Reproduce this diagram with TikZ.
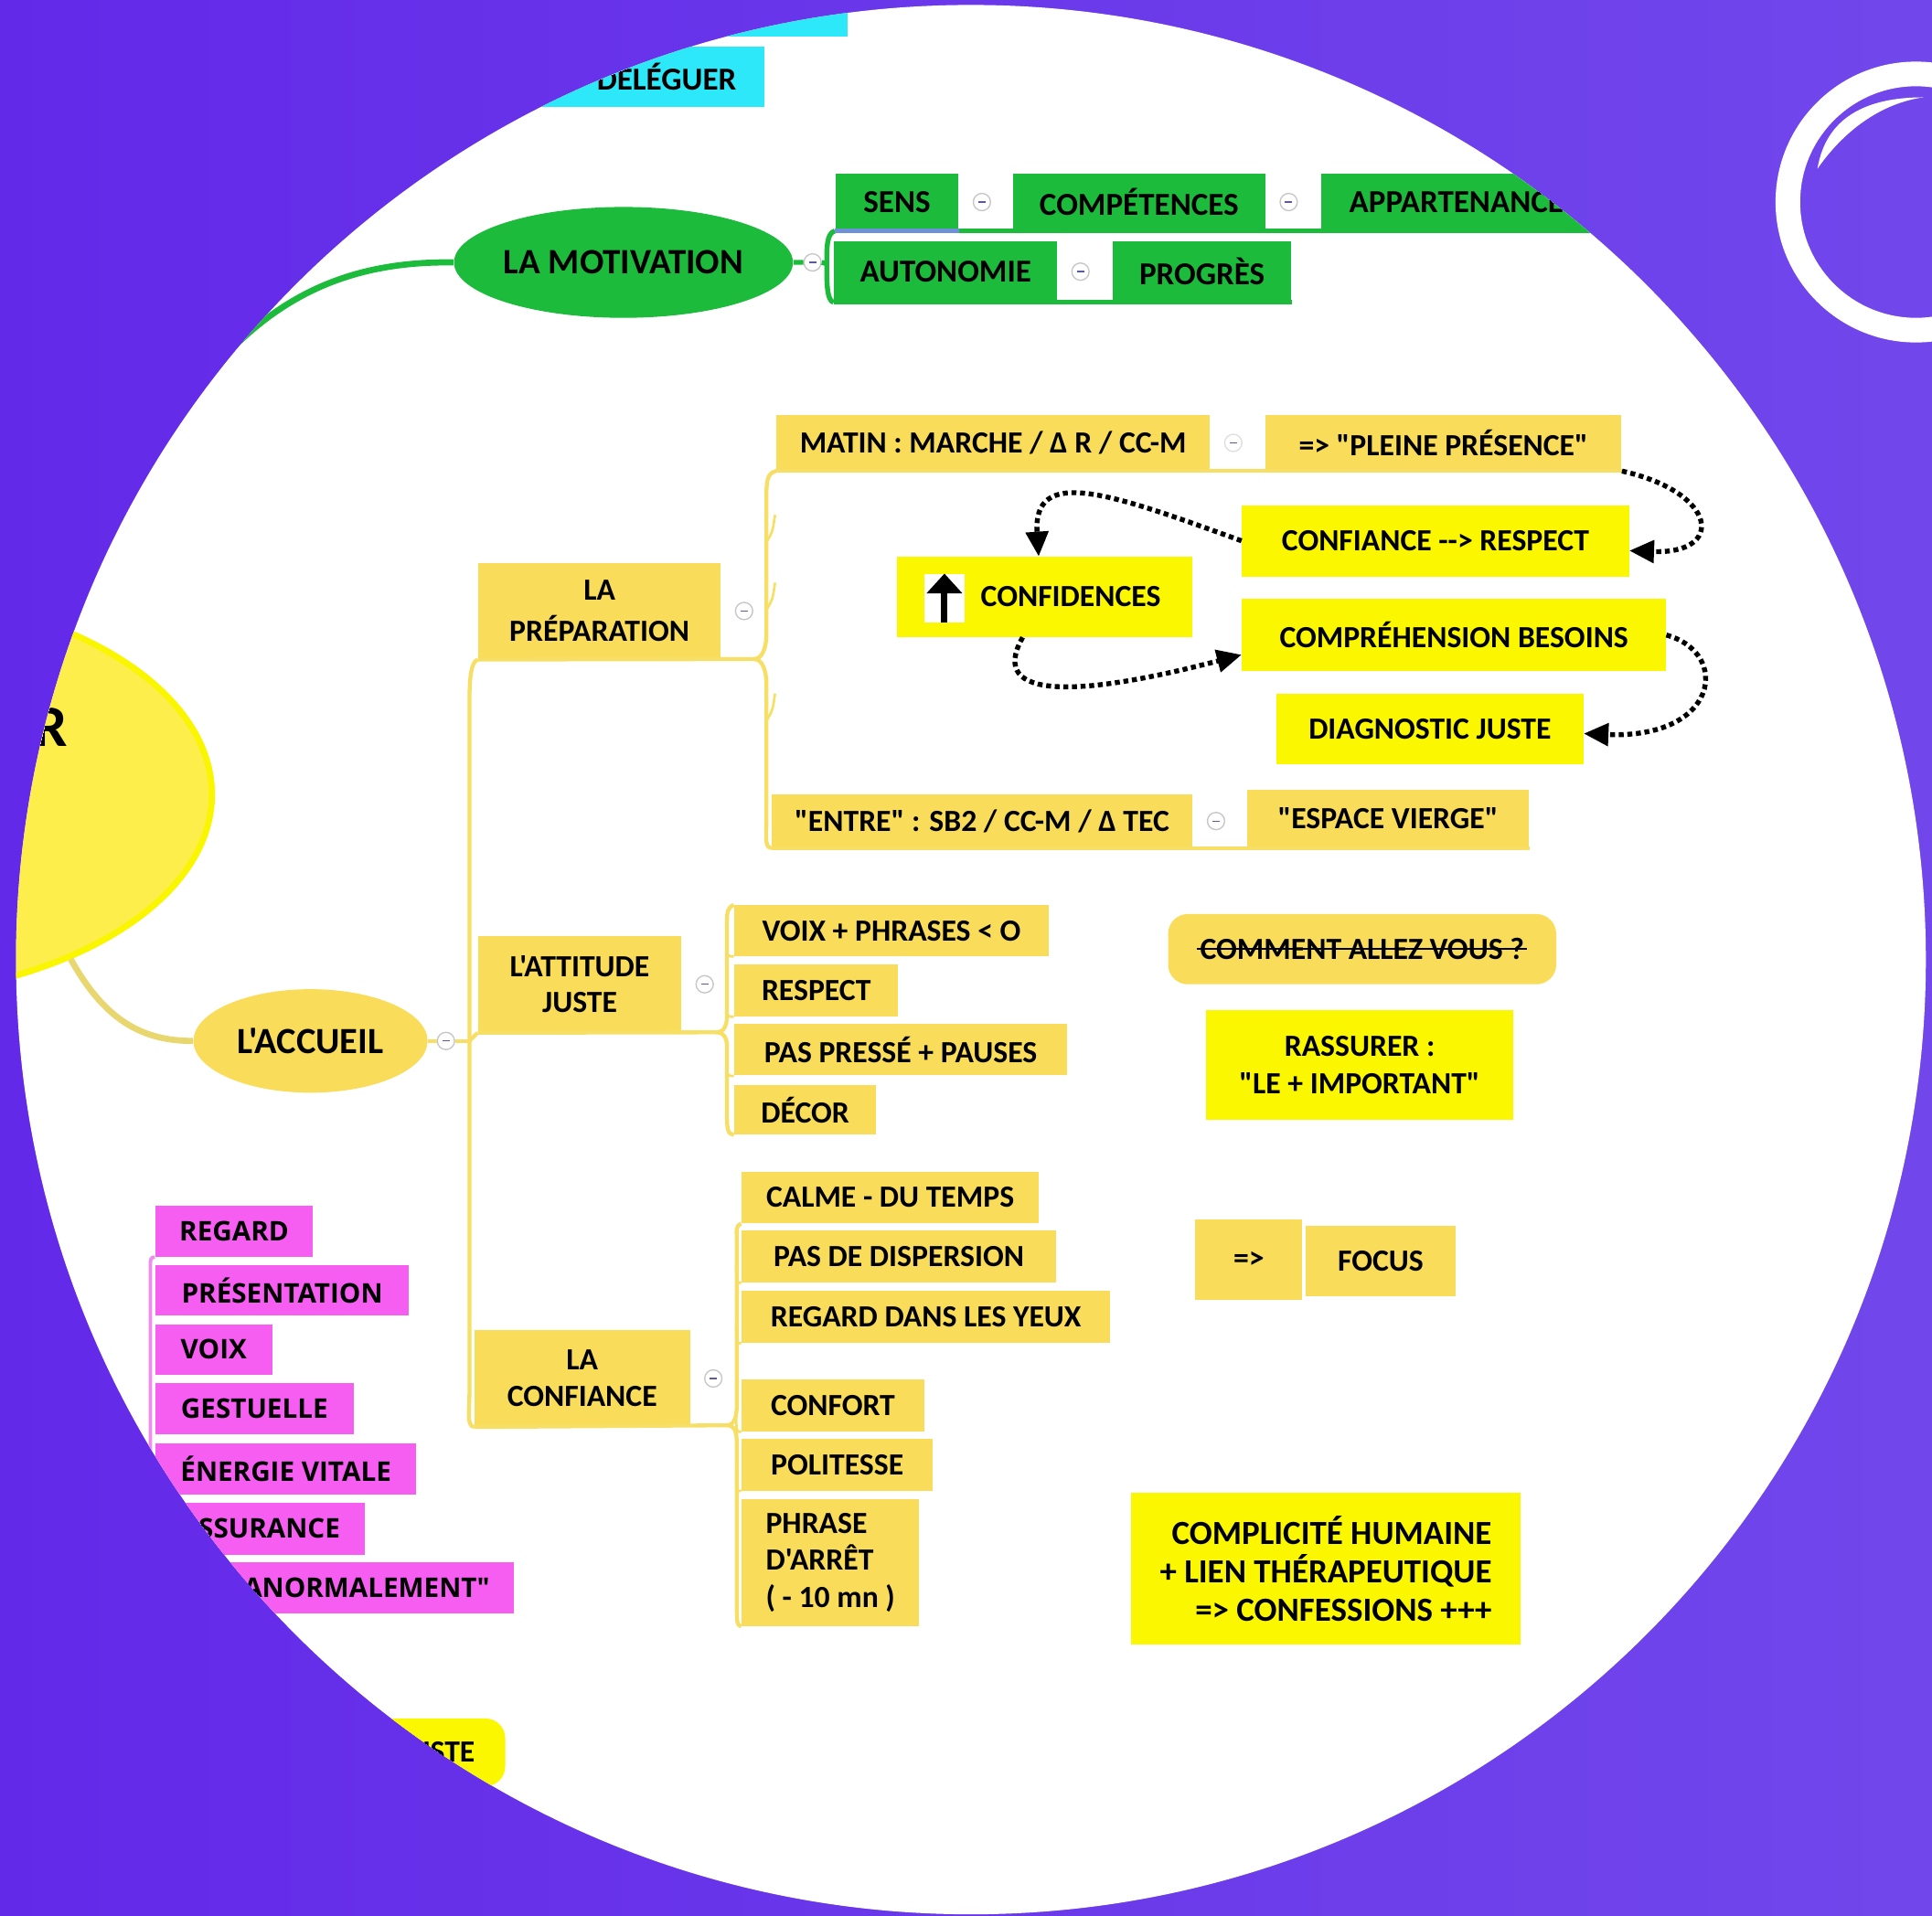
\documentclass[tikz,border=0pt]{standalone}
\usepackage{fontspec}
\setmainfont{Carlito}[Ligatures=TeXOff]
\newfontfamily\pinkfont{Open Sans}[Ligatures=TeXOff]
\usetikzlibrary{positioning}
\usetikzlibrary{shapes.geometric}
\usetikzlibrary{arrows.meta}
\definecolor{bgleft}{RGB}{99,41,233}
\definecolor{bgright}{RGB}{113,71,235}
\definecolor{mapyellow}{RGB}{249,221,90}
\definecolor{brightyellow}{RGB}{250,247,0}
\definecolor{mapgreen}{RGB}{29,187,59}
\definecolor{mappink}{RGB}{246,94,242}
\definecolor{mapcyan}{RGB}{44,232,248}
\definecolor{ellyellow}{RGB}{253,238,75}
\definecolor{ellborder}{RGB}{250,246,0}
\definecolor{linkyellow}{RGB}{247,222,100}
\definecolor{accueillink}{RGB}{232,214,110}
\definecolor{linkpink}{RGB}{240,140,240}
\definecolor{selblue}{RGB}{110,145,215}
\tikzset{
    boxat/.style n args={4}{minimum width={(#3-#1)*0.5pt}, minimum height={(#4-#2)*0.5pt},
        at={({(#1+#3)/2},{(#2+#4)/2})}},
    box/.style = {rectangle, inner sep=0pt, text=black, align=center,
        font=\fontsize{12.5}{15}\selectfont\bfseries},
    ybox/.style = {box, fill=mapyellow},
    bbox/.style = {box, fill=brightyellow},
    gbox/.style = {box, fill=mapgreen, font=\fontsize{13}{15}\selectfont\bfseries},
    cbox/.style = {box, fill=mapcyan, font=\fontsize{13}{15}\selectfont\bfseries},
    pbox/.style = {box, fill=mappink, font=\pinkfont\fontsize{11}{13}\selectfont\bfseries},
    fold/.style = {circle, draw=gray!45, fill=white, line width=0.5pt,
        minimum size=7pt, inner sep=0pt,
        path picture={\draw[blue!30!gray, line width=0.5pt]
            ([xshift=-1.5pt]path picture bounding box.center) --
            ([xshift=1.5pt]path picture bounding box.center);}}}

\begin{document}
\begin{tikzpicture}[x=0.5pt, y=-0.5pt,
    ylink/.style = {draw=linkyellow, line width=1.6pt},
    glink/.style = {draw=mapgreen, line width=2pt},
    plink/.style = {draw=linkpink, line width=1.4pt},
    dotlink/.style = {line width=2pt, dash pattern=on 2pt off 1.5pt,
        -{Triangle[length=10pt,width=9pt]}}
    ]
    \useasboundingbox (0,0) rectangle (1568,1555);
    \clip (0,0) rectangle (1568,1555);
    \shade[left color=bgleft, right color=bgright] (0,0) rectangle (1568,1555);

    \begin{scope}
    \clip (788,779) circle[radius=775];
    \fill[white] (0,0) rectangle (1568,1555);

    % centre
    \node[ellipse, fill=ellyellow, draw=ellborder, line width=2.5pt,
        minimum width=292pt, minimum height=165pt, inner sep=0pt] (centre) at (-120,645) {};
    \node[anchor=east, font=\fontsize{24}{26}\selectfont\bfseries] (centretxt) at (62,590) {R};

    % cyan branch
    \node[cbox, boxat={440}{-20}{688}{30}] (cyantop) {};
    \node[cbox, boxat={440}{38}{620}{87}] (deleguer) {\hspace*{11pt}DÉLÉGUER};

    % la motivation
    \node[ellipse, fill=mapgreen, minimum width=132pt, minimum height=45pt, inner sep=0pt,
        font=\fontsize{14.5}{16}\selectfont\bfseries] (motiv) at (506,213) {LA MOTIVATION};
    \coordinate (gstart) at (150,330);
    \draw[glink, line width=2.5pt] (gstart) .. controls (215,235) and (290,212) .. (motiv.west);
    \node[fold, right=4pt of motiv] (fmotiv) {};
    \node[gbox, boxat={678}{141}{778}{187}] (sens) {SENS};
    \node[fold, right=5.5pt of sens] (fsens) {};
    \node[gbox, boxat={822}{141}{1027}{187}] (comp) {COMPÉTENCES};
    \node[fold, right=5.5pt of comp] (fcomp) {};
    \node[gbox, boxat={1072}{141}{1292}{187}] (appart) {APPARTENANCE};
    \node[gbox, boxat={677}{196}{858}{245}] (autonomie) {AUTONOMIE};
    \node[fold, right=5.5pt of autonomie] (fauto) {};
    \node[gbox, boxat={903}{196}{1048}{245}] (progres) {PROGRÈS};
    \coordinate (gbr) at (671,214);
    \draw[glink] (motiv.east) -- (fmotiv.west) (fmotiv.east) -- (gbr);
    \draw[glink] (sens.south west) .. controls +(-7,2) and +(0,-12) .. (gbr)
        .. controls +(0,12) and +(-6,-1) .. (autonomie.south west);
    \draw[glink] (sens.south west) -- (appart.south east);
    \draw[glink] (autonomie.south west) -- (progres.south east);
    \draw[selblue, line width=1.6pt] (sens.south west) -- (sens.south east);

    % l'accueil
    \node[ellipse, fill=mapyellow, minimum width=95pt, minimum height=42pt, inner sep=0pt,
        font=\fontsize{15}{17}\selectfont\bfseries] (accueil) at (252,845) {L'ACCUEIL};
    \draw[draw=accueillink, line width=2.5pt] (centre.-37) .. controls (85,828) and (115,845) .. (accueil.west);
    \node[fold, right=3.5pt of accueil] (facc) {};
    \coordinate (trunk) at (381,845);

    \node[ybox, boxat={388}{457}{585}{535}, font=\fontsize{12.5}{16.5}\selectfont\bfseries] (prep) {LA\\PRÉPARATION};
    \node[fold, right=5.5pt of prep] (fprep) {};
    \node[ybox, boxat={388}{760}{553}{838}, font=\fontsize{12.5}{14.5}\selectfont\bfseries] (attitude) {L'ATTITUDE\\JUSTE};
    \node[fold, right=5.5pt of attitude] (fatt) {};
    \node[ybox, boxat={385}{1080}{560}{1158}] (confiance) {LA\\CONFIANCE};
    \node[fold, right=5.5pt of confiance] (fconf) {};

    \draw[ylink] (accueil.east) -- (facc.west) (facc.east) -- (trunk);
    \draw[ylink] (prep.south west) .. controls +(-6,2) and +(0,-15) .. (381,570) -- (trunk)
        -- (381,1130) .. controls +(0,15) and +(-6,-1) .. (confiance.south west);
    \draw[ylink] (trunk) -- (attitude.south west);
    \coordinate (pbr) at (612,535);
    \coordinate (abr) at (582,838);
    \coordinate (cbr) at (590,1157);
    \draw[ylink] (prep.south west) -- (pbr);
    \draw[ylink] (attitude.south west) -- (abr);
    \draw[ylink] (confiance.south west) -- (cbr);

    % la preparation
    \node[ybox, boxat={630}{337}{982}{382}] (matin) {MATIN : MARCHE / Δ R / CC-M};
    \node[fold, draw=gray!25, right=5.5pt of matin] (fmatin) {};
    \node[ybox, boxat={1027}{337}{1316}{382}] (pleine) {=> "PLEINE PRÉSENCE"};
    \draw[ylink] (matin.south west) -- (pleine.south east);
    \node[ybox, boxat={626}{645}{968}{688}] (entre) {"ENTRE" : SB2 / CC-M / Δ TEC};
    \node[fold, right=5.5pt of entre] (fentre) {};
    \node[ybox, boxat={1012}{641}{1241}{688}] (espace) {"ESPACE VIERGE"};
    \draw[ylink] (entre.south west) -- (espace.south east);
    \draw[ylink] (matin.south west) .. controls +(-7,2) and +(0,-15) .. (622,405) -- (622,515)
        .. controls +(0,12) and +(6,0) .. (pbr) .. controls +(6,0) and +(0,-12) .. (622,555)
        -- (622,665) .. controls +(0,15) and +(-5,-1) .. (entre.south west);
    \foreach \y in {440,495,585}
        \draw[ylink, line width=1pt] (622,\y) .. controls (627,\y-8) .. (629,\y-22);

    \node[bbox, boxat={728}{452}{968}{517}] (confid) {\hspace*{21pt}CONFIDENCES};
    \node[fill=white, inner sep=0pt, boxat={750}{466}{783}{505}] (upicon) {};
    \draw[line width=2.6pt, -{Triangle[length=8pt,width=14pt]}] (upicon.south) -- (upicon.north);
    \node[bbox, boxat={1008}{410}{1322}{468}] (cresp) {CONFIANCE --> RESPECT};
    \node[bbox, boxat={1008}{486}{1352}{545}] (cbes) {COMPRÉHENSION BESOINS};
    \node[bbox, boxat={1036}{563}{1285}{620}] (diag) {DIAGNOSTIC JUSTE};
    \draw[dotlink] (pleine.south east) .. controls (1395,400) and (1400,450) .. ([yshift=-4pt]cresp.east);
    \draw[dotlink] (cresp.west) .. controls (900,400) and (838,378) .. ([xshift=-2.5pt]confid.north);
    \draw[dotlink] ([xshift=-9pt]confid.south) .. controls (800,570) and (880,565) .. ([yshift=-8pt]cbes.west);
    \draw[dotlink] (cbes.east) .. controls (1405,530) and (1395,600) .. ([yshift=-2pt]diag.east);

    % l'attitude juste
    \node[ybox, boxat={596}{735}{851}{776}] (voix) {VOIX + PHRASES < O};
    \node[ybox, boxat={596}{783}{729}{825}] (respect) {RESPECT};
    \node[ybox, boxat={596}{831}{866}{873}] (presse) {PAS PRESSÉ + PAUSES};
    \node[ybox, boxat={596}{881}{711}{921}] (decor) {DÉCOR};
    \draw[ylink] (voix.north west) .. controls +(-5,2) and +(0,-8) .. (590,748) -- (590,825)
        .. controls +(0,8) and +(5,0) .. (abr) .. controls +(5,0) and +(0,-8) .. (590,850)
        -- (590,905) .. controls +(0,12) and +(-5,-1) .. (decor.south west);
    \foreach \n in {voix, respect, presse}
        \draw[ylink, line width=1pt] ([xshift=-3pt, yshift=7pt]\n.south west)
            .. controls ([xshift=-3pt]\n.south west) .. (\n.south west);
    \node[ybox, rounded corners=8pt, boxat={948}{742}{1263}{799}] (comment) {COMMENT ALLEZ VOUS ?};
    \draw[line width=0.8pt] ([xshift=-67pt]comment.center) -- ([xshift=67pt]comment.center);
    \node[bbox, boxat={979}{820}{1228}{909}] (rassurer) {RASSURER :\\"LE + IMPORTANT"};

    % la confiance
    \node[ybox, boxat={602}{951}{843}{993}] (calme) {CALME - DU TEMPS};
    \node[ybox, boxat={602}{999}{857}{1041}] (dispersion) {PAS DE DISPERSION};
    \node[ybox, boxat={602}{1048}{901}{1090}] (yeux) {REGARD DANS LES YEUX};
    \node[ybox, boxat={602}{1120}{750}{1162}] (confort) {CONFORT};
    \node[ybox, boxat={602}{1168}{757}{1210}] (politesse) {POLITESSE};
    \node[ybox, boxat={602}{1217}{746}{1320}, align=left] (phrase) {PHRASE\\D'ARRÊT\\( - 10 mn )};
    \draw[ylink] (calme.south west) .. controls +(-5,2) and +(0,-12) .. (598,1010) -- (598,1140)
        .. controls +(0,10) and +(6,0) .. (cbr) .. controls +(6,0) and +(0,-10) .. (598,1172)
        -- (598,1300) .. controls +(0,15) and +(-4,-1) .. (phrase.south west);
    \foreach \n in {dispersion, yeux, confort, politesse}
        \draw[ylink, line width=1pt] ([xshift=-2pt, yshift=7pt]\n.south west)
            .. controls ([xshift=-2pt]\n.south west) .. (\n.south west);
    \node[ybox, boxat={970}{990}{1057}{1055}] (implies) {=>};
    \node[ybox, boxat={1060}{995}{1181}{1052}] (focus) {FOCUS};
    \node[bbox, boxat={918}{1212}{1234}{1335}, align=right,
        font=\fontsize{13.7}{15.5}\selectfont\bfseries] (complicite)
        {COMPLICITÉ HUMAINE\\+ LIEN THÉRAPEUTIQUE\\=> CONFESSIONS +++};

    % pink branch
    \node[pbox, boxat={126}{979}{254}{1020}] (regard) {REGARD};
    \node[pbox, boxat={126}{1027}{332}{1068}] (presentation) {PRÉSENTATION};
    \node[pbox, boxat={126}{1075}{221}{1116}] (voixp) {VOIX};
    \node[pbox, boxat={126}{1123}{287}{1164}] (gestuelle) {GESTUELLE};
    \node[pbox, boxat={126}{1172}{338}{1213}] (energie) {ÉNERGIE VITALE};
    \node[pbox, boxat={126}{1220}{296}{1262}] (assurance) {ASSURANCE};
    \node[pbox, boxat={178}{1268}{417}{1310}] (anormal) {ANORMALEMENT"};
    \coordinate (pinkend) at (122,1330);
    \draw[plink] (regard.south west) .. controls (122,1021) .. (122,1032) -- (pinkend);

    % bottom box
    \node[bbox, rounded corners=8pt, boxat={300}{1395}{410}{1450}] (juste) {JUSTE};
    \end{scope}

    % top right ring
    \draw[white, line width=10pt] (1555,164) circle[radius=104];
    \fill[white] (1475,137) .. controls (1482,95) and (1515,79) .. (1561,79)
        .. controls (1525,84) and (1495,108) .. (1475,137) -- cycle;
\end{tikzpicture}
\end{document}
